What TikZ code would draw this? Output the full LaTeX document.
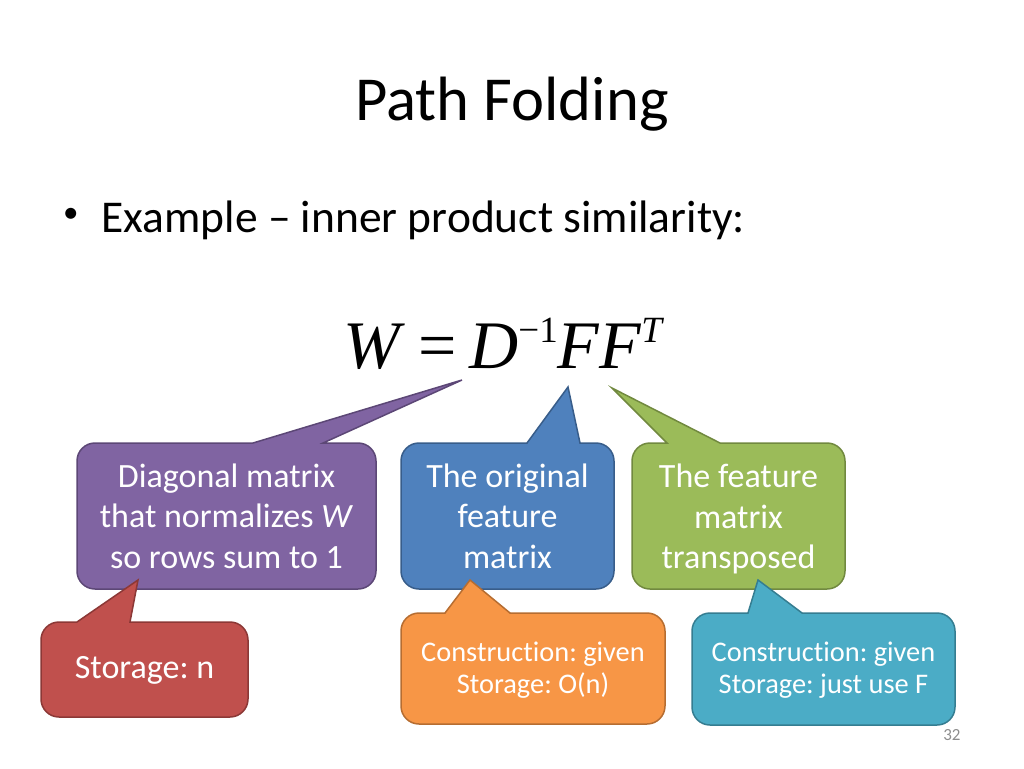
\documentclass[tikz,border=0pt]{standalone}
\usepackage{fontspec}
\setmainfont{Carlito}[Ligatures=NoCommon]
\newfontfamily\eqfont{Liberation Serif}
\frenchspacing

% office colours
\definecolor{violetfill}{HTML}{8064A2}
\definecolor{violetline}{HTML}{5C4776}
\definecolor{bluefill}{HTML}{4F81BD}
\definecolor{blueline}{HTML}{385D8A}
\definecolor{greenfill}{HTML}{9BBB59}
\definecolor{greenline}{HTML}{71893F}
\definecolor{redfill}{HTML}{C0504D}
\definecolor{redline}{HTML}{8C3836}
\definecolor{orangefill}{HTML}{F79646}
\definecolor{orangeline}{HTML}{B66D31}
\definecolor{aquafill}{HTML}{4BACC6}
\definecolor{aqualine}{HTML}{357D91}

% rounded box with a pointer on its top edge
% #1 style, #2 left, #3 top, #4 right, #5 bottom, #6 #7 pointer base, #8 tip
\newcommand{\calloutshape}[8]{%
    \draw[#1] (#2+18,#3) -- (#6,#3) -- (#8) -- (#7,#3) -- (#4-18,#3)
        arc[start angle=-90, end angle=0, radius=18] -- (#4,#5-18)
        arc[start angle=0, end angle=90, radius=18] -- (#2+18,#5)
        arc[start angle=90, end angle=180, radius=18] -- (#2,#3+18)
        arc[start angle=180, end angle=270, radius=18] -- cycle;
}

\tikzset{
    bigtext/.style={text=white, align=center, font=\fontsize{34}{40.5}\selectfont},
    smalltext/.style={text=white, align=center, font=\fontsize{28.4}{32}\selectfont},
}

\begin{document}
\begin{tikzpicture}[x=1pt, y=-1pt]
    \useasboundingbox (0,0) rectangle (1024,768);

    % Title and bullet
    \node[font=\fontsize{62.6}{75}\selectfont, anchor=base] (title) at (512,120) {Path Folding};
    \node[font=\fontsize{31}{36}\selectfont, anchor=base west, inner sep=0pt] (bullet) at (63,222) {•};
    \node[font=\fontsize{45.5}{54}\selectfont, anchor=base west] (example) at (98,232) {Example – inner product similarity:};

    % Equation
    \node[anchor=base west, inner sep=0pt] (eq) at (343,368) {\eqfont\fontsize{68}{80}\selectfont%
        \textit{W}\hspace{14pt}=\hspace{12pt}\textit{D}\raisebox{26pt}{\fontsize{37}{40}\selectfont −1}\textit{FF}\raisebox{26pt}{\fontsize{37}{40}\selectfont\textit{T}}};

    % Pointer tips
    \coordinate (tipD) at (462,380);
    \coordinate (tipF) at (568,387);
    \coordinate (tipFT) at (612,388);
    \coordinate (tipDiag) at (138,580);
    \coordinate (tipOrig) at (470,580);
    \coordinate (tipTrans) at (758,580);

    % Upper callouts
    \calloutshape{fill=violetfill, draw=violetline, line width=1.5}{77}{443}{376}{589}{253}{323}{tipD}
    \calloutshape{fill=bluefill, draw=blueline, line width=1.5}{401}{443}{614}{589}{527}{580}{tipF}
    \calloutshape{fill=greenfill, draw=greenline, line width=1.5}{632}{443}{845}{589}{667}{720}{tipFT}

    % Lower callouts
    \calloutshape{fill=redfill, draw=redline, line width=1.5}{41}{622}{248}{717}{77}{130}{tipDiag}
    \calloutshape{fill=orangefill, draw=orangeline, line width=1.5}{401}{613}{665}{724}{445}{510}{tipOrig}
    \calloutshape{fill=aquafill, draw=aqualine, line width=1.5}{692}{613}{955}{725}{748}{802}{tipTrans}

    % Callout texts
    \node[bigtext] (diag) at (226.5,516) {Diagonal matrix\\that normalizes \textit{W}\\so rows sum to 1};
    \node[bigtext] (orig) at (507.5,516) {The original\\feature\\matrix};
    \node[bigtext] (trans) at (738.5,519) {The feature\\matrix\\transposed};
    \node[bigtext] (stordiag) at (144.5,670) {Storage: n};
    \node[smalltext] (storig) at (533,670) {Construction: given\\Storage: O(n)};
    \node[smalltext] (sttrans) at (823.5,670) {Construction: given\\Storage: just use F};

    % Slide number
    \node[text=black!45, font=\fontsize{17}{20}\selectfont, anchor=base east] (page) at (964,740) {32};
\end{tikzpicture}
\end{document}
